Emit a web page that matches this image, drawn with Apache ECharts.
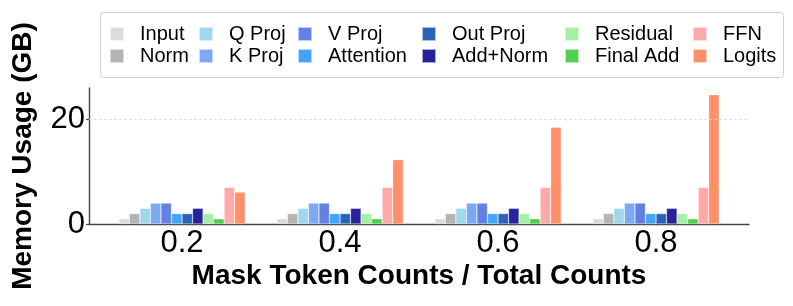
<!DOCTYPE html>
<html>
<head>
<meta charset="utf-8">
<script src="https://cdn.jsdelivr.net/npm/echarts@6/dist/echarts.min.js"></script>
<style>
html,body{margin:0;padding:0;background:#fff;}
#chart{width:793px;height:306px;}
</style>
</head>
<body>
<div id="chart"></div>
<script>
// ---- data ----
const categories = ['0.2', '0.4', '0.6', '0.8'];
const seriesNames = ['Input', 'Norm', 'Q Proj', 'K Proj', 'V Proj', 'Attention', 'Out Proj', 'Add+Norm', 'Residual', 'Final Add', 'FFN', 'Logits'];
const inputVals     = [1, 1, 1, 1];
const normVals      = [2, 2, 2, 2];
const qProjVals     = [3, 3, 3, 3];
const kProjVals     = [4, 4, 4, 4];
const vProjVals     = [4, 4, 4, 4];
const attentionVals = [2, 2, 2, 2];
const outProjVals   = [2, 2, 2, 2];
const addNormVals   = [3, 3, 3, 3];
const residualVals  = [2, 2, 2, 2];
const finalAddVals  = [1, 1, 1, 1];
const ffnVals       = [7, 7, 7, 7];
const logitsVals    = [6.1, 12.3, 18.5, 24.7];
const yTicks = [0, 20];

const seriesValues = [inputVals, normVals, qProjVals, kProjVals, vProjVals, attentionVals, outProjVals, addNormVals, residualVals, finalAddVals, ffnVals, logitsVals];
const colors = ['#dcdcdc', '#b4b4b4', '#9fd7ef', '#7ea8f0', '#6381e5', '#43a3fd', '#2b63b8', '#27239b', '#a4f1a3', '#4fcf4f', '#ffaaaa', '#ff8f69'];

const FONT = "'Liberation Sans', Arial, Helvetica, sans-serif";

const chart = echarts.init(document.getElementById('chart'), null, {renderer: 'canvas'});

const legendCols = [109, 198, 297, 421, 564, 692];
const legends = legendCols.map((x, i) => ({
  orient: 'vertical',
  left: x,
  top: 24,
  itemGap: 2,
  itemWidth: 14,
  itemHeight: 14,
  padding: 0,
  selectedMode: false,
  icon: 'rect',
  data: [seriesNames[2 * i], seriesNames[2 * i + 1]],
  textStyle: {fontFamily: FONT, fontSize: 20, color: '#000', padding: [0, 0, 0, 11]}
}));

const barSeries = seriesNames.map((name, i) => ({
  name: name,
  type: 'bar',
  xAxisIndex: 0,
  yAxisIndex: 0,
  data: seriesValues[i],
  barGap: '0%',
  barCategoryGap: '20%',
  itemStyle: {color: colors[i], borderColor: 'rgba(255,255,255,0.6)', borderWidth: 0.5},
  emphasis: {disabled: true}
}));

const option = {
  animation: false,
  backgroundColor: '#fff',
  legend: legends,
  graphic: [{
    type: 'rect', left: 100, top: 12, z: -1,
    shape: {width: 683, height: 65, r: 3},
    style: {fill: '#fff', stroke: '#d0d0d0', lineWidth: 1}
  }],
  grid: [
    {left: 103, right: 58, top: 88, bottom: 82},
    {left: 89, right: 44, top: 88, bottom: 82}
  ],
  xAxis: [
    {
      type: 'category', gridIndex: 0, data: categories,
      axisLine: {show: false}, axisTick: {show: false},
      axisLabel: {fontFamily: FONT, fontSize: 31, color: '#000', margin: 4}
    },
    {
      type: 'value', gridIndex: 1, min: 0, max: 1,
      name: 'Mask Token Counts / Total Counts', nameLocation: 'middle', nameGap: 38,
      nameTextStyle: {fontFamily: FONT, fontWeight: 'bold', fontSize: 28, color: '#000'},
      axisLine: {show: true, lineStyle: {color: '#444', width: 1.4}},
      axisTick: {show: false}, axisLabel: {show: false}, splitLine: {show: false}
    }
  ],
  yAxis: [
    {type: 'value', gridIndex: 0, min: 0, max: 26, show: false},
    {
      type: 'value', gridIndex: 1, min: 0, max: 26, interval: 20,
      name: 'Memory Usage (GB)', nameLocation: 'middle', nameRotate: 90, nameGap: 52,
      nameTextStyle: {fontFamily: FONT, fontWeight: 'bold', fontSize: 28, color: '#000'},
      axisLine: {show: true, lineStyle: {color: '#444', width: 1.4}},
      axisTick: {show: true, inside: false, length: 3, lineStyle: {color: '#444', width: 1.2}, customValues: yTicks},
      axisLabel: {fontFamily: FONT, fontSize: 31, color: '#000', margin: 4, customValues: yTicks},
      splitLine: {show: false}
    }
  ],
  series: barSeries.concat([{
    type: 'line', xAxisIndex: 1, yAxisIndex: 1, data: [], silent: true,
    markLine: {
      silent: true, symbol: 'none', label: {show: false},
      lineStyle: {color: '#d8d8d8', type: [3, 2], width: 0.8},
      data: [{yAxis: 20}]
    }
  }])
};
chart.setOption(option);
</script>
</body>
</html>
